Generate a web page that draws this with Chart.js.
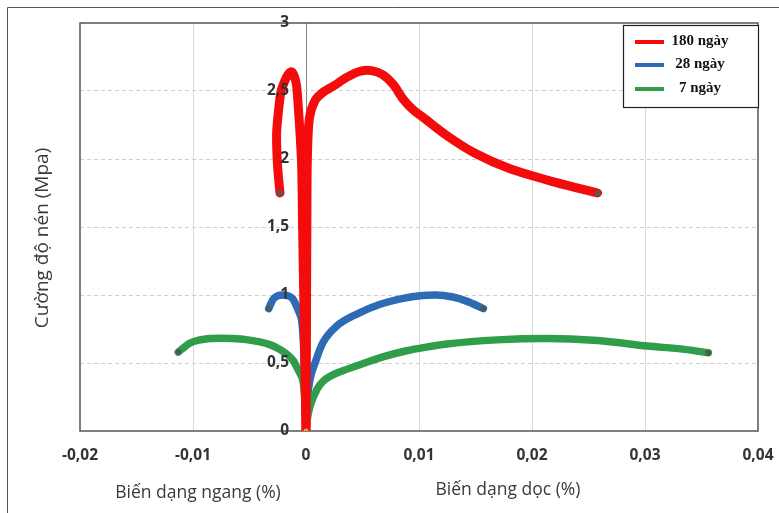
<!DOCTYPE html>
<html>
<head>
<meta charset="utf-8">
<script src="https://cdn.jsdelivr.net/npm/chart.js@4/dist/chart.umd.min.js"></script>
<style>
html,body{margin:0;padding:0;background:#fff;}
#wrap{position:relative;width:779px;height:513px;}
</style>
</head>
<body>
<div id="wrap"><canvas id="c" width="779" height="513"></canvas></div>
<script>
// ---- data (strain in %, stress in MPa) ----
const seriesLabels = ["180 ngày", "28 ngày", "7 ngày"];
const seriesColors = ["#f40c0c", "#2e6bb5", "#2f9d49"];

const s180LatX = [0, -0.0001, -0.0002, -0.0003, -0.00038, -0.00053, -0.00068, -0.00082, -0.001, -0.00125, -0.0016, -0.0019, -0.0022, -0.0024, -0.0026, -0.00255, -0.00245, -0.0023];
const s180LatY = [0, 0.5, 1.0, 1.5, 1.94, 2.19, 2.38, 2.53, 2.6, 2.64, 2.62, 2.57, 2.5, 2.38, 2.19, 2.0, 1.88, 1.75];
const s180AxX = [0, 0.00003, 0.00005, 0.00008, 0.00012, 0.0003, 0.0008, 0.0015, 0.0025, 0.0036, 0.0048, 0.0058, 0.0068, 0.0077, 0.0086, 0.0095, 0.0103, 0.0125, 0.015, 0.018, 0.022, 0.0258];
const s180AxY = [0, 0.5, 1.0, 1.6, 2.0, 2.3, 2.43, 2.49, 2.54, 2.6, 2.645, 2.65, 2.62, 2.55, 2.44, 2.36, 2.31, 2.17, 2.04, 1.93, 1.83, 1.75];

const s28LatX = [0, -0.0001, -0.0002, -0.0004, -0.0008, -0.0012, -0.0016, -0.002, -0.0025, -0.0029, -0.0033];
const s28LatY = [0, 0.3, 0.6, 0.82, 0.91, 0.975, 0.995, 1.0, 0.995, 0.97, 0.9];
const s28AxX = [0, 0.0001, 0.00035, 0.0008, 0.0015, 0.0027, 0.0045, 0.0065, 0.0086, 0.0101, 0.0115, 0.013, 0.0142, 0.0157];
const s28AxY = [0, 0.2, 0.375, 0.5, 0.65, 0.77, 0.86, 0.93, 0.975, 0.995, 1.0, 0.985, 0.955, 0.90];

const s7LatX = [0, -0.00005, -0.00012, -0.0003, -0.0007, -0.00115, -0.0017, -0.0023, -0.0032, -0.0041, -0.0053, -0.0065, -0.0075, -0.0085, -0.0095, -0.0103, -0.0113];
const s7LatY = [0, 0.12, 0.25, 0.38, 0.45, 0.52, 0.565, 0.6, 0.635, 0.655, 0.672, 0.68, 0.682, 0.68, 0.668, 0.645, 0.58];
const s7AxX = [0, 0.0001, 0.00035, 0.001, 0.0015, 0.0021, 0.003, 0.0045, 0.0068, 0.0089, 0.0105, 0.0125, 0.0169, 0.0213, 0.0258, 0.0302, 0.0335, 0.0356];
const s7AxY = [0, 0.08, 0.18, 0.31, 0.365, 0.40, 0.435, 0.48, 0.545, 0.59, 0.615, 0.64, 0.67, 0.68, 0.665, 0.625, 0.6, 0.575];

const xTickValues = [-0.02, -0.01, 0, 0.01, 0.02, 0.03, 0.04];
const yTickValues = [0, 0.5, 1, 1.5, 2, 2.5, 3];
const xTitleLeft = "Biến dạng ngang (%)";
const xTitleRight = "Biến dạng dọc (%)";
const yTitle = "Cường độ nén (Mpa)";

function pts(xs, ys) { return xs.map((x, i) => ({x: x, y: ys[i]})); }
function fmt(v) { return String(Math.round(v * 1000) / 1000).replace('.', ','); }

function makeDs(xs, ys, si, monotone) {
  const last = xs.length - 1;
  const ds = {
    label: seriesLabels[si],
    data: pts(xs, ys),
    showLine: true,
    borderColor: seriesColors[si],
    backgroundColor: seriesColors[si],
    borderWidth: si === 0 ? 9 : 7.5,
    borderCapStyle: 'round',
    borderJoinStyle: 'round',
    tension: 0.3,
    pointRadius: ctx => (ctx.dataIndex === last ? 3 : (ctx.dataIndex === 0 ? 2.5 : 0)),
    pointBackgroundColor: ctx => (ctx.dataIndex === 0 ? '#e0a050' : '#4d5a55'),
    pointBorderWidth: 0,
    pointHoverRadius: 0,
    yAxisID: 'y'
  };
  if (monotone) ds.cubicInterpolationMode = 'monotone';
  return ds;
}

const datasets = [
  makeDs(s180LatX, s180LatY, 0, false),
  makeDs(s180AxX, s180AxY, 0, false),
  makeDs(s7LatX, s7LatY, 2, false),
  makeDs(s7AxX, s7AxY, 2, true),
  makeDs(s28LatX, s28LatY, 1, false),
  makeDs(s28AxX, s28AxY, 1, true)
];

const framePlugin = {
  id: 'frame',
  beforeDraw(chart) {
    const c = chart.ctx;
    c.save();
    c.fillStyle = '#fff';
    c.fillRect(0, 0, chart.width, chart.height);
    c.strokeStyle = '#555';
    c.lineWidth = 1;
    c.beginPath();
    c.moveTo(7.5, chart.height);
    c.lineTo(7.5, 7.5);
    c.lineTo(chart.width, 7.5);
    c.stroke();
    c.restore();
  },
  beforeDatasetsDraw(chart) {
    const a = chart.chartArea, c = chart.ctx;
    c.save();
    c.strokeStyle = '#555';
    c.lineWidth = 1.5;
    c.strokeRect(a.left, a.top, a.right - a.left, a.bottom - a.top);
    c.restore();
  },
  afterDraw(chart) {
    const c = chart.ctx;
    c.save();
    // axis titles
    c.fillStyle = '#3a3a3a';
    c.font = '17.5px "Open Sans"';
    c.textAlign = 'center';
    c.textBaseline = 'middle';
    c.fillText(xTitleLeft, 198, 493);
    c.fillText(xTitleRight, 508, 490);
    c.save();
    c.translate(43, 238);
    c.rotate(-Math.PI / 2);
    c.font = '19px "Open Sans"';
    c.fillText(yTitle, 0, 0);
    c.restore();
    // legend
    const lx = 623, ly = 25, lw = 135, lh = 82;
    c.fillStyle = '#fff';
    c.fillRect(lx, ly, lw, lh);
    c.strokeStyle = '#222';
    c.lineWidth = 1.2;
    c.strokeRect(lx + 0.5, ly + 0.5, lw, lh);
    const rows = [42, 65, 89];
    seriesLabels.forEach((lab, i) => {
      c.strokeStyle = seriesColors[i];
      c.lineWidth = 4;
      c.beginPath();
      c.moveTo(635, rows[i]);
      c.lineTo(664, rows[i]);
      c.stroke();
      c.fillStyle = '#111';
      c.font = 'bold 15px "Liberation Serif"';
      c.textAlign = 'center';
      c.fillText(lab, 700, rows[i] - 1);
    });
    c.restore();
  }
};

new Chart(document.getElementById('c'), {
  type: 'scatter',
  data: { datasets: datasets },
  options: {
    responsive: false,
    animation: false,
    events: [],
    layout: { padding: { left: 80, right: 21, top: 23, bottom: 0 } },
    plugins: { legend: { display: false }, tooltip: { enabled: false } },
    scales: {
      x: {
        type: 'linear',
        min: -0.02, max: 0.04,
        afterBuildTicks: s => { s.ticks = xTickValues.map(v => ({value: v})); },
        afterFit: s => { s.height = 82; s.paddingLeft = 0; s.paddingRight = 0; },
        grid: {
          color: ctx => {
            if (ctx.index === 0 || ctx.index === xTickValues.length - 1) return 'rgba(0,0,0,0)';
            return ctx.tick && ctx.tick.value === 0 ? '#808080' : '#d9d9d9';
          },
          lineWidth: 1,
          drawTicks: false
        },
        border: { display: false },
        ticks: {
          padding: 15,
          color: '#333',
          font: { family: 'Open Sans', size: 15.5, weight: 'bold' },
          callback: v => fmt(v),
          maxRotation: 0
        }
      },
      y: {
        type: 'linear',
        position: 'left',
        min: 0, max: 3,
        afterBuildTicks: s => { s.ticks = yTickValues.map(v => ({value: v})); },
        afterFit: s => { s.width = 0; },
        grid: {
          color: ctx => (ctx.index === 0 || ctx.index === yTickValues.length - 1) ? 'rgba(0,0,0,0)' : '#cfcfcf',
          lineWidth: 1,
          drawTicks: false
        },
        border: { display: false, dash: [4, 3] },
        ticks: { display: false }
      },
      yLabels: {
        type: 'linear',
        position: { x: -0.0015 },
        z: 1,
        min: 0, max: 3,
        afterBuildTicks: s => { s.ticks = yTickValues.map(v => ({value: v})); },
        grid: { display: false, drawTicks: false },
        border: { display: false },
        ticks: {
          z: 1,
          padding: 0,
          color: '#333',
          font: { family: 'Open Sans', size: 15.5, weight: 'bold' },
          callback: v => fmt(v)
        }
      }
    }
  },
  plugins: [framePlugin]
});
</script>
</body>
</html>
